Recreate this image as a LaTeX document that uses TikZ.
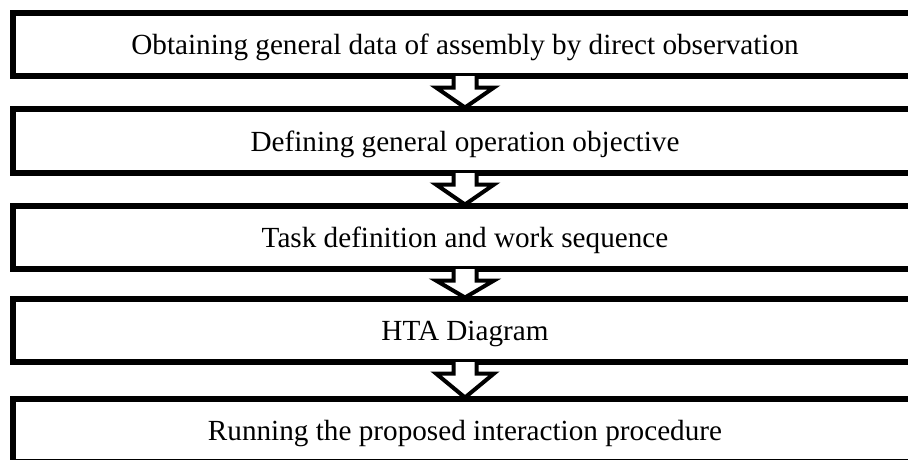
\documentclass[tikz,border=0pt]{standalone}
\usepackage{fontspec}
\setmainfont{Liberation Serif}
\begin{document}
\begin{tikzpicture}[x=1pt,y=-1pt,
  box/.style={draw=black, line width=6pt, fill=white, minimum width=905pt,
    inner sep=0pt, text height=20pt, text depth=0pt,
    font=\fontsize{29.2}{33}\selectfont},
  blockarrow/.style={draw=black, line width=4pt, miter limit=10}]
\useasboundingbox (0,0) rectangle (908,459);
\clip (0,0) rectangle (908,459);
\node[box, minimum height=63pt] (b1) at (465,44.5) {Obtaining general data of assembly by direct observation};
\node[box, minimum height=64pt] (b2) at (465,141) {Defining general operation objective};
\node[box, minimum height=63pt] (b3) at (465,237.5) {Task definition and work sequence};
\node[box, minimum height=63pt] (b4) at (465,330.5) {HTA Diagram};
\node[box, minimum height=63pt] (b5) at (465,430.5) {Running the proposed interaction procedure};
\foreach \a/\b in {b1/b2,b2/b3,b3/b4,b4/b5}{
  \coordinate (t) at ([yshift=3pt]\a.south);
  \coordinate (tip) at ([yshift=-1.5pt]\b.north);
  \coordinate (w) at ([yshift=-8.5pt]\a.south);
  \fill[white] ([xshift=-11.5pt]t) -- ([xshift=-11.5pt]t|-w) -- ([xshift=-29pt]t|-w) -- (tip) -- ([xshift=29pt]t|-w) -- ([xshift=11.5pt]t|-w) -- ([xshift=11.5pt]t) -- cycle;
  \draw[blockarrow] ([xshift=-11.5pt]t) -- ([xshift=-11.5pt]t|-w) -- ([xshift=-29pt]t|-w) -- (tip) -- ([xshift=29pt]t|-w) -- ([xshift=11.5pt]t|-w) -- ([xshift=11.5pt]t);
}
\end{tikzpicture}
\end{document}
